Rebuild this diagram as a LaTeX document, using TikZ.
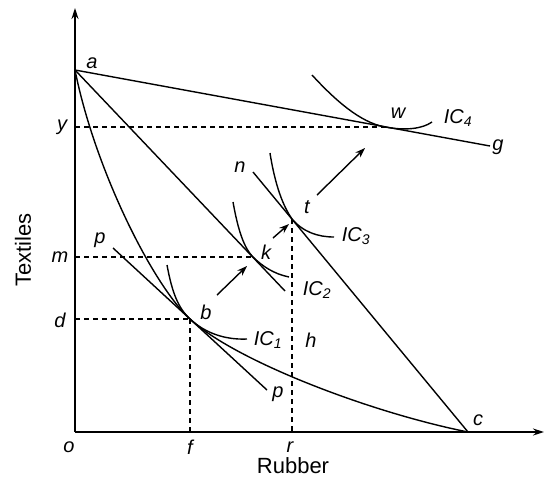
\documentclass[tikz,border=0pt]{standalone}
\usepackage{fontspec}
\setmainfont{Liberation Sans}
\usetikzlibrary{arrows.meta}
\begin{document}
\begin{tikzpicture}[x=1pt,y=-1pt,
  curve/.style={line width=1.4pt},
  axis/.style={line width=1.5pt,-{Stealth[length=11pt,width=7pt]}},
  dline/.style={line width=1.2pt,dash pattern=on 5pt off 4pt},
  arr/.style={line width=1.4pt,-{Stealth[length=10pt,width=7pt]}},
  lbl/.style={font=\fontsize{20}{20}\selectfont\itshape,inner sep=0pt},
  ttl/.style={font=\fontsize{22}{22}\selectfont,inner sep=0pt}]
\useasboundingbox (0,0) rectangle (545,480);
% points
\coordinate (o) at (75,432);
\coordinate (ytop) at (75,8);
\coordinate (xend) at (544,432);
\coordinate (a) at (75,70);
\coordinate (g) at (490,146);
\coordinate (w) at (385,127);
\coordinate (yy) at (75,127);
\coordinate (b) at (190,319);
\coordinate (dd) at (75,319);
\coordinate (ff) at (190,432);
\coordinate (k) at (253,257);
\coordinate (mm) at (75,257);
\coordinate (kend) at (285,291);
\coordinate (t) at (292,219);
\coordinate (rr) at (292,432);
\coordinate (n) at (253,172);
\coordinate (c) at (468,432);
\coordinate (p1) at (113,248);
\coordinate (p2) at (267,390);
\coordinate (a1s) at (217,295);
\coordinate (a1e) at (247,266);
\coordinate (a2s) at (273,238);
\coordinate (a2e) at (289,224);
\coordinate (a3s) at (317,195);
\coordinate (a3e) at (365,148);
% axes
\draw[axis] (o) -- (ytop);
\draw[axis] (o) -- (xend);
% lines
\draw[curve] (a) -- (g);
\draw[curve] (a) -- (kend);
\draw[curve] (n) -- (c);
\draw[curve] (p1) -- (p2);
% a-c curve
\draw[curve] (a) .. controls (95,170) and (153,285) .. (b)
  .. controls (234,360) and (368,412) .. (c);
% indifference curves
\draw[curve] (167,265) .. controls (172,292) and (178,308) .. (b)
  .. controls (205,333) and (225,340) .. (247,339);
\draw[curve] (233,202) .. controls (238,230) and (244,248) .. (k)
  .. controls (262,266) and (274,274) .. (289,277);
\draw[curve] (270,153) .. controls (275,185) and (283,206) .. (t)
  .. controls (303,232) and (318,237) .. (334,237);
\draw[curve] (312,75) .. controls (335,100) and (360,122.4) .. (w)
  .. controls (405,130.7) and (422,129) .. (432,122);
% dashed
\draw[dline] (yy) -- (w);
\draw[dline] (mm) -- (k);
\draw[dline] (dd) -- (b);
\draw[dline] (b) -- (ff);
\draw[dline] (t) -- (rr);
% arrows
\draw[arr] (a1s) -- (a1e);
\draw[arr] (a2s) -- (a2e);
\draw[arr] (a3s) -- (a3e);
% labels
\node[lbl] (la) at (92,63) {a};
\node[lbl] (ly) at (62,127) {y};
\node[lbl] (lm) at (60,257) {m};
\node[lbl] (ld) at (60,320) {d};
\node[lbl] (lo) at (69,447) {o};
\node[lbl] (lf) at (190,447) {f};
\node[lbl] (lr) at (290,447) {r};
\node[lbl] (lb) at (206,312) {b};
\node[lbl] (lk) at (266,252) {k};
\node[lbl] (lt) at (307,207) {t};
\node[lbl] (ln) at (240,167) {n};
\node[lbl] (lw) at (398,113) {w};
\node[lbl] (lg) at (498,147) {g};
\node[lbl] (lc) at (478,420) {c};
\node[lbl] (lh) at (311,340) {h};
\node[lbl] (lp1) at (100,240) {p};
\node[lbl] (lp2) at (278,394) {p};
\node[lbl] (lic1) at (268,340) {IC\textsubscript{1}};
\node[lbl] (lic2) at (317,290) {IC\textsubscript{2}};
\node[lbl] (lic3) at (356,236) {IC\textsubscript{3}};
\node[lbl] (lic4) at (458,118) {IC\textsubscript{4}};
\node[ttl] (rub) at (293,466) {Rubber};
\node[ttl,rotate=90] (tex) at (23,250) {Textiles};
\end{tikzpicture}
\end{document}
